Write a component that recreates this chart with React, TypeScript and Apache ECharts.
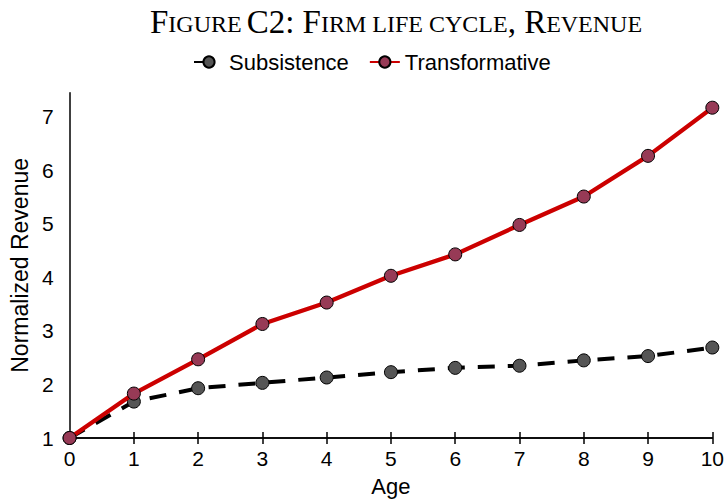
import React, { useEffect, useRef } from "react";
import * as echarts from "echarts";

const ages = [0, 1, 2, 3, 4, 5, 6, 7, 8, 9, 10];
const subsistence = [1.0, 1.68, 1.93, 2.03, 2.13, 2.23, 2.31, 2.35, 2.45, 2.53, 2.69];
const transformative = [1.0, 1.83, 2.47, 3.13, 3.53, 4.03, 4.43, 4.98, 5.51, 6.27, 7.17];
const seriesNames = ["Subsistence", "Transformative"];

export default function App() {
  const ref = useRef<HTMLDivElement>(null);
  useEffect(() => {
    if (!ref.current) return;
    const chart = echarts.init(ref.current, undefined, { renderer: "svg" });
    const sans = "Liberation Sans";
    const serif = "Liberation Serif";
    const axisBase = {
      type: "value",
      min: 0,
      max: 10,
      interval: 1,
      axisLine: { show: true, lineStyle: { color: "#000", width: 1.5 } },
      splitLine: { show: false },
    };
    chart.setOption({
      animation: false,
      backgroundColor: "#fff",
      title: {
        text: "{a|F}{b|IGURE} {a|C2: F}{b|IRM LIFE CYCLE}{a|, R}{b|EVENUE}",
        left: 145,
        top: 0,
        textStyle: {
          fontWeight: "normal",
          rich: {
            a: { fontFamily: serif, fontSize: 33, lineHeight: 33, verticalAlign: "bottom", fontWeight: "normal", color: "#000" },
            b: { fontFamily: serif, fontSize: 24, lineHeight: 24, verticalAlign: "bottom", padding: [0, 0, 2, 0], fontWeight: "normal", color: "#000" },
          },
        },
      },
      legend: {
        top: 46,
        left: 188,
        itemWidth: 30,
        itemHeight: 14,
        itemGap: 20,
        data: seriesNames,
        textStyle: { fontFamily: sans, fontSize: 22, color: "#000" },
      },
      grid: { left: 69, right: 12, top: 92.7, bottom: 61, containLabel: false },
      xAxis: [
        {
          ...axisBase,
          name: "Age",
          nameLocation: "middle",
          nameGap: 37,
          nameTextStyle: { fontFamily: sans, fontSize: 22, color: "#000" },
          axisTick: { show: true, inside: true, length: 6, lineStyle: { color: "#000", width: 1.5 } },
          axisLabel: { fontFamily: sans, fontSize: 21, color: "#000", margin: 10 },
        },
        {
          ...axisBase,
          position: "bottom",
          axisTick: { show: true, inside: false, length: 6, lineStyle: { color: "#000", width: 1.5 } },
          axisLabel: { show: false },
        },
      ],
      yAxis: {
        type: "value",
        min: 1,
        max: 7.45,
        interval: 1,
        name: "Normalized Revenue",
        nameLocation: "middle",
        nameGap: 32,
        nameTextStyle: { fontFamily: sans, fontSize: 23, color: "#000" },
        axisLine: { show: true, lineStyle: { color: "#000", width: 1.5 } },
        axisTick: { show: false },
        splitLine: { show: false },
        axisLabel: { fontFamily: sans, fontSize: 21, color: "#000", margin: 16, showMaxLabel: false },
      },
      series: [
        {
          name: seriesNames[0],
          type: "line",
          data: ages.map((a, i) => [a, subsistence[i]]),
          symbol: "circle",
          symbolSize: 13,
          lineStyle: { color: "#000", width: 4, type: [17, 13] },
          itemStyle: { color: "#555555", borderColor: "#000", borderWidth: 1 },
          z: 2,
        },
        {
          name: seriesNames[1],
          type: "line",
          data: ages.map((a, i) => [a, transformative[i]]),
          symbol: "circle",
          symbolSize: 13,
          lineStyle: { color: "#cc0000", width: 4.3 },
          itemStyle: { color: "#973a56", borderColor: "#000", borderWidth: 1 },
          z: 3,
        },
      ],
    });
    return () => chart.dispose();
  }, []);
  return (
    <div
      ref={ref}
      style={{ position: "fixed", left: 0, top: 0, width: 727, height: 502 }}
    />
  );
}
